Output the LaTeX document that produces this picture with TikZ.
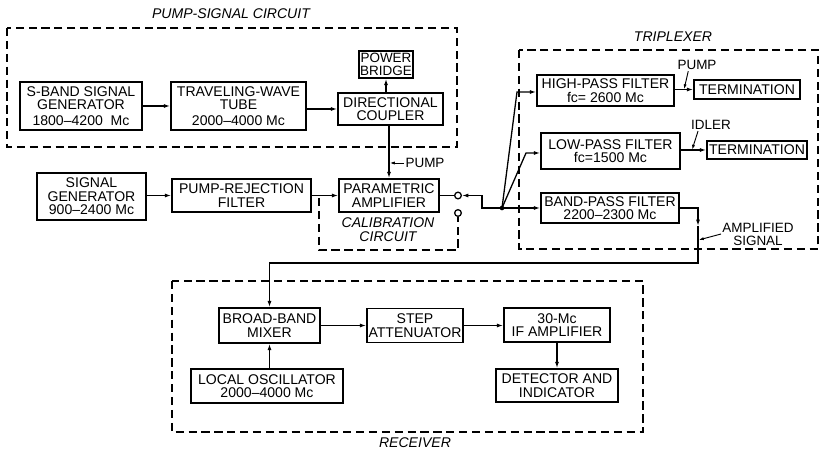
\documentclass[tikz,border=0pt]{standalone}
\usepackage{fontspec}
\setmainfont{Liberation Sans}
\usetikzlibrary{arrows.meta,positioning}

\begin{document}
\begin{tikzpicture}[x=0.3mm, y=-0.3mm, >={Latex[length=5.5pt,width=3.5pt]},
    blk/.style={draw, line width=1.3pt, align=center, inner sep=1pt,
      font=\fontsize{12}{11.5}\selectfont},
    sz/.style 2 args={minimum width=#1*0.3mm, minimum height=#2*0.3mm},
    grp/.style={draw, line width=1.2pt, dash pattern=on 7pt off 4pt},
    lbl/.style={font=\fontsize{12}{12}\selectfont\itshape, align=center, inner sep=1pt},
    note/.style={font=\fontsize{11.5}{11}\selectfont, align=center, inner sep=1pt},
    wire/.style={line width=1.1pt},
    lead/.style={line width=0.8pt, -{Latex[length=4.5pt,width=2.6pt]}},
    term/.style={circle, draw, line width=1.1pt, inner sep=0pt, minimum size=2mm}]
  \fill[white] (0,0) rectangle (820,450);
  \useasboundingbox (0,0) rectangle (820,450);

  % pump-signal circuit
  \node[blk, sz={122}{48}] (sbg) at (81,106) {S-BAND SIGNAL\\GENERATOR\\[1.5pt]1800--4200 \ Mc};
  \node[blk, sz={135}{48}] (twt) at (238.5,106) {TRAVELING-WAVE\\TUBE\\[1.5pt]2000--4000 Mc};
  \node[blk, sz={105}{32}] (dc) at (390.5,109) {DIRECTIONAL\\COUPLER};
  \node[blk, sz={54}{27}, inner sep=0pt, font=\fontsize{11.5}{10.5}\selectfont] (pb) at (386,64.5) {POWER\\BRIDGE};
  \draw[grp] (7,28) rectangle (457,147);
  \node[lbl] (psc) at (231,14) {PUMP-SIGNAL CIRCUIT};

  % signal path
  \node[blk, sz={109}{47}] (sg) at (91.5,196.5) {SIGNAL\\GENERATOR\\900--2400 Mc};
  \node[blk, sz={139}{33}] (prf) at (241.5,195.5) {PUMP-REJECTION\\FILTER};
  \node[blk, sz={100}{33}] (pa) at (389,195.5) {PARAMETRIC\\AMPLIFIER};
  \node[term] (sw1) at (458,195.5) {};
  \node[term] (sw2) at (458,213) {};
  \coordinate (calA) at (319,198);
  \coordinate (calB) at (319,250);
  \draw[grp] (calA) -- (calB) -| (sw2.south);
  \node[lbl] (cal) at (388,230) {CALIBRATION\\CIRCUIT};

  % triplexer
  \node[blk, sz={137}{31}] (hpf) at (605.5,90.5) {HIGH-PASS FILTER\\fc= 2600 Mc};
  \node[blk, sz={106}{19}] (tm1) at (747,89.5) {TERMINATION};
  \node[blk, sz={139}{36}] (lpf) at (610.5,151) {LOW-PASS FILTER\\fc=1500 Mc};
  \node[blk, sz={100}{18}] (tm2) at (757,150) {TERMINATION};
  \node[blk, sz={138}{30}] (bpf) at (610,208) {BAND-PASS FILTER\\2200--2300 Mc};
  \draw[grp] (519,50) rectangle (818,249);
  \node[lbl] (tpx) at (673,37) {TRIPLEXER};
  \node[circle, fill, inner sep=0pt, minimum size=4pt] (jn) at (502,208) {};

  % receiver
  \node[blk, sz={101}{35}] (bbm) at (269.5,325.5) {BROAD-BAND\\MIXER};
  \node[blk, sz={96}{34}] (sa) at (415,325.5) {STEP\\ATTENUATOR};
  \node[blk, sz={106}{34}] (ifa) at (557,325) {30-Mc\\IF AMPLIFIER};
  \node[blk, sz={152}{34}] (lo) at (267,386) {LOCAL OSCILLATOR\\2000--4000 Mc};
  \node[blk, sz={122}{33}] (det) at (557,385.5) {DETECTOR AND\\INDICATOR};
  \draw[grp] (172,281) rectangle (643,432);
  \node[lbl] (rcv) at (415,443) {RECEIVER};

  % connectors
  \draw[wire,->] (sbg.east) -- (twt.west);
  \draw[wire,->] (twt.east |- dc.west) -- (dc.west);
  \draw[wire,->] (dc.north -| pb.south) -- (pb.south);
  \draw[wire,->] (dc.south -| pa.north) -- (pa.north);
  \draw[wire,->] (sg.east |- prf.west) -- (prf.west);
  \draw[wire,->] (prf.east) -- (pa.west);
  \draw[wire] (pa.east) -- (sw1.west);
  \coordinate (kink) at (482,208);
  \draw[wire,->] (jn.center) -- (kink) |- (sw1.east);
  \coordinate (hpin) at (517,92);
  \coordinate (lpin) at (526,153);
  \draw[wire,->] (jn.center) -- (hpin) -- (hpin -| hpf.west);
  \draw[wire,->] (jn.center) -- (lpin) -- (lpin -| lpf.west);
  \draw[wire,->] (jn.center) -- (bpf.west);
  \draw[wire,->] (hpf.east |- tm1.west) -- (tm1.west);
  \draw[wire,->] (lpf.east |- tm2.west) -- (tm2.west);
  \coordinate (ampmid) at (698,226);
  \coordinate (ampbend) at (698,263);
  \draw[wire,->] (bpf.east) -| (ampmid);
  \draw[wire,->] (ampmid) -- (ampbend) -| (bbm.north);
  \draw[wire,->] (bbm.east) -- (bbm.east -| sa.west);
  \draw[wire,->] (sa.east) -- (sa.east -| ifa.west);
  \draw[wire,->] (ifa.south) -- (det.north);
  \draw[wire,->] (bbm.south |- lo.north) -- (bbm.south);

  % labels on lines
  \node[note] (pumpB) at (425,163) {PUMP};
  \coordinate (pumpBt) at (389.5,163);
  \draw[lead] (pumpB.west) -- (pumpBt);
  \node[note] (pumpA) at (697,65) {PUMP};
  \coordinate (pumpAt) at (684,89.5);
  \draw[lead] (pumpA.215) -- (pumpAt);
  \node[note] (idl) at (711,125) {IDLER};
  \coordinate (idlt) at (692,150);
  \draw[lead] (idl.205) -- (idlt);
  \node[note] (amp) at (758,234) {AMPLIFIED\\SIGNAL};
  \coordinate (ampt) at (698.5,240);
  \draw[lead] (amp.west) -- (ampt);
\end{tikzpicture}
\end{document}
